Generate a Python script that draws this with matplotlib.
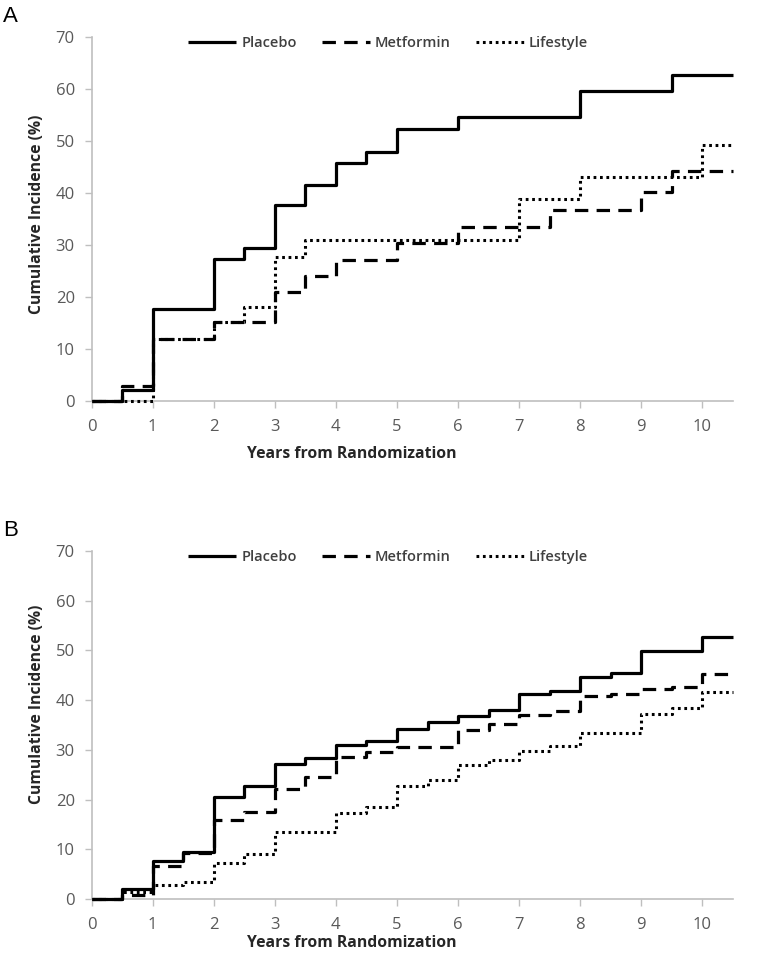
import matplotlib
matplotlib.use("Agg")
import matplotlib.pyplot as plt

plt.rcParams['font.family'] = ['Open Sans', 'DejaVu Sans']

# ---------------- data ----------------
series_names = ["Placebo", "Metformin", "Lifestyle"]

A_placebo_t = [0, 0.5, 1, 2, 2.5, 3, 3.5, 4, 4.5, 5, 6, 8, 9.5, 10.5]
A_placebo_v = [0, 2.1, 17.7, 27.3, 29.5, 37.6, 41.6, 45.7, 47.9, 52.4, 54.7, 59.6, 62.6, 62.6]

A_metformin_t = [0, 0.5, 1, 2, 3, 3.5, 4, 5, 6, 7.5, 9, 9.5, 10.5]
A_metformin_v = [0, 2.9, 11.9, 15.1, 21.0, 24.0, 27.1, 30.4, 33.4, 36.7, 40.1, 44.3, 44.3]

A_lifestyle_t = [0, 1, 2, 2.5, 3, 3.5, 7, 8, 10, 10.5]
A_lifestyle_v = [0, 11.9, 15.1, 18.0, 27.6, 31.0, 38.9, 43.1, 49.2, 49.2]

B_placebo_t = [0, 0.5, 1, 1.5, 2, 2.5, 3, 3.5, 4, 4.5, 5, 5.5, 6, 6.5, 7, 7.5, 8, 8.5, 9, 10, 10.5]
B_placebo_v = [0, 2.1, 7.6, 9.5, 20.6, 22.8, 27.1, 28.3, 30.9, 31.8, 34.1, 35.6, 36.8, 38.1, 41.2, 41.9, 44.7, 45.5, 49.9, 52.8, 52.8]

B_metformin_t = [0, 0.5, 1, 1.5, 2, 2.5, 3, 3.5, 4, 4.5, 5, 6, 6.5, 7, 7.5, 8, 8.5, 9, 9.5, 10, 10.5]
B_metformin_v = [0, 0.9, 6.6, 9.3, 15.9, 17.5, 22.1, 24.6, 28.5, 29.5, 30.6, 34.0, 35.2, 37.0, 37.9, 40.8, 41.3, 42.3, 42.7, 45.3, 45.3]

B_lifestyle_t = [0, 0.5, 1, 1.5, 2, 2.5, 3, 4, 4.5, 5, 5.5, 6, 6.5, 7, 7.5, 8, 9, 9.5, 10, 10.5]
B_lifestyle_v = [0, 1.5, 2.8, 3.4, 7.2, 9.0, 13.4, 17.2, 18.6, 22.7, 24.0, 26.9, 27.9, 29.8, 30.8, 33.3, 37.2, 38.5, 41.7, 41.7]

x_ticks = list(range(0, 11))
y_ticks = list(range(0, 71, 10))
x_label = "Years from Randomization"
y_label = "Cumulative Incidence (%)"
panel_labels = ["A", "B"]

# ---------------- styling ----------------
W, H = 762, 960
fig = plt.figure(figsize=(W / 100, H / 100), dpi=100)

styles = [
    dict(color="black", lw=2.3, linestyle="-"),
    dict(color="black", lw=2.3, linestyle=(0, (4.2, 2.6))),
    dict(color="black", lw=2.2, linestyle=(0, (0.9, 1.2))),
]

axis_gray = "#BFBFBF"
tick_gray = "#595959"
label_dark = "#262626"


def make_panel(rect, data, ylabel_y, xlabel_y):
    ax = fig.add_axes(rect)
    # draw in reverse so placebo on top
    for (t, v), name, st in reversed(list(zip(data, series_names, styles))):
        ax.plot(t, v, drawstyle="steps-post", label=name, solid_capstyle="butt",
                dash_capstyle="butt", clip_on=False, zorder=3, **st)
    ax.set_xlim(0, 10.5)
    ax.set_ylim(0, 70)
    ax.set_xticks(x_ticks)
    ax.set_yticks(y_ticks)
    for s in ["top", "right"]:
        ax.spines[s].set_visible(False)
    for s in ["left", "bottom"]:
        ax.spines[s].set_color(axis_gray)
        ax.spines[s].set_linewidth(1.2)
    ax.tick_params(axis="both", colors=axis_gray, length=5, width=1.0,
                   labelcolor=tick_gray, labelsize=12)
    ax.tick_params(axis="y", pad=7)
    ax.tick_params(axis="x", pad=8)
    ax.set_xlabel(x_label, fontsize=11.3, fontweight="bold", color=label_dark)
    ax.set_ylabel(y_label, fontsize=11.3, fontweight="bold", color=label_dark)
    ax.xaxis.set_label_coords(0.406, xlabel_y)
    ax.yaxis.set_label_coords(-0.0725, ylabel_y)
    handles, labels = ax.get_legend_handles_labels()
    handles, labels = handles[::-1], labels[::-1]
    leg = ax.legend(handles, labels, loc="center", bbox_to_anchor=(0.4626, 0.9835),
                    ncol=3, frameon=False, handlelength=3.3, handletextpad=0.35,
                    columnspacing=1.7, borderpad=0, borderaxespad=0,
                    prop=dict(size=10.5, weight="semibold"))
    for txt in leg.get_texts():
        txt.set_color("#404040")
    return ax


data_A = [(A_placebo_t, A_placebo_v), (A_metformin_t, A_metformin_v), (A_lifestyle_t, A_lifestyle_v)]
data_B = [(B_placebo_t, B_placebo_v), (B_metformin_t, B_metformin_v), (B_lifestyle_t, B_lifestyle_v)]

x0, x1 = 91.5, 733
rectA = [x0 / W, 1 - 401 / H, (x1 - x0) / W, (401 - 37) / H]
rectB = [x0 / W, 1 - 899 / H, (x1 - x0) / W, (899 - 551) / H]

make_panel(rectA, data_A, 0.514, -0.124)
make_panel(rectB, data_B, 0.56, -0.103)

fig.text(3 / W, 1 - 17 / H, panel_labels[0], fontsize=16, va="center", ha="left",
         family="Liberation Sans", color="black")
fig.text(3 / W, 1 - 531 / H, panel_labels[1], fontsize=16, va="center", ha="left",
         family="Liberation Sans", color="black")

fig.savefig("out.png", dpi=100)
